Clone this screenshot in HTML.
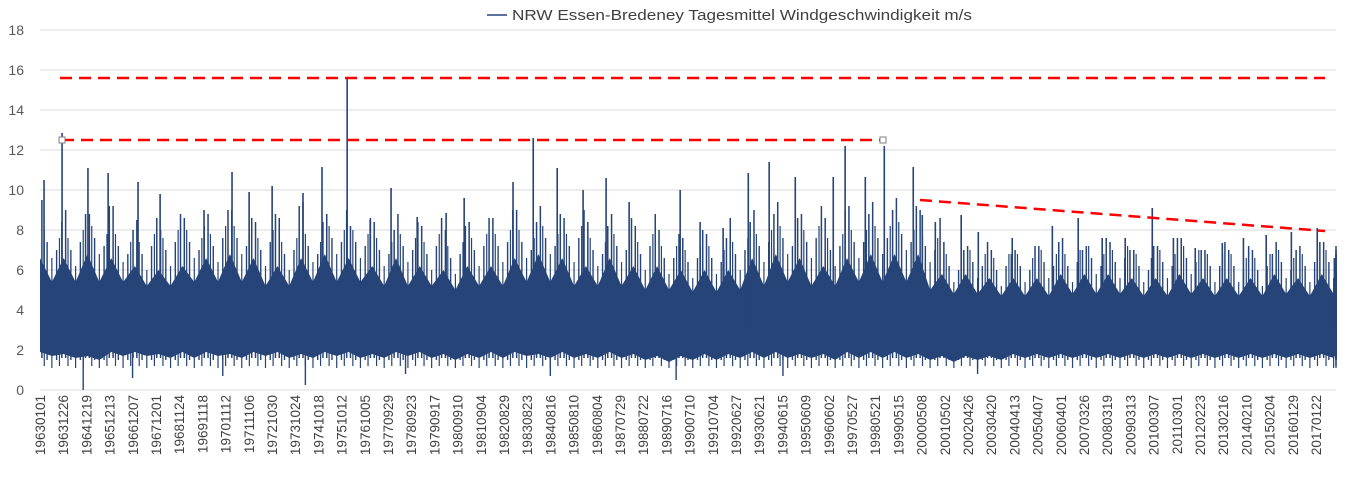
<!DOCTYPE html>
<html><head><meta charset="utf-8"><style>
html,body{margin:0;padding:0;background:#fff;}
svg{display:block;font-family:"Liberation Sans",sans-serif;}
</style></head><body>
<svg id="chart" width="1347" height="486">
<g id="grid"></g>
<g id="yaxis"></g>
<g id="xaxis"></g>
<g id="series"></g>
<g id="refs"></g>
<g>
<line x1="487" y1="15" x2="507" y2="15" stroke="#264478" stroke-width="1.5"/>
<text x="512" y="20" font-size="15" textLength="460" lengthAdjust="spacingAndGlyphs" fill="#404040">NRW Essen-Bredeney Tagesmittel Windgeschwindigkeit m/s</text>
</g>
</svg>
<script>
const yTicks=[0,2,4,6,8,10,12,14,16,18];
const xLabels=["19630101","19631226","19641219","19651213","19661207","19671201","19681124","19691118","19701112","19711106","19721030","19731024","19741018","19751012","19761005","19770929","19780923","19790917","19800910","19810904","19820829","19830823","19840816","19850810","19860804","19870729","19880722","19890716","19900710","19910704","19920627","19930621","19940615","19950609","19960602","19970527","19980521","19990515","20000508","20010502","20020426","20030420","20040413","20050407","20060401","20070326","20080319","20090313","20100307","20110301","20120223","20130216","20140210","20150204","20160129","20170122"];
const years=[1963,1964,1965,1966,1967,1968,1969,1970,1971,1972,1973,1974,1975,1976,1977,1978,1979,1980,1981,1982,1983,1984,1985,1986,1987,1988,1989,1990,1991,1992,1993,1994,1995,1996,1997,1998,1999,2000,2001,2002,2003,2004,2005,2006,2007,2008,2009,2010,2011,2012,2013,2014,2015,2016,2017,2018];
const winterTop=[6.6,6.6,6.8,6.6,6.2,6.0,6.2,6.6,6.8,6.6,6.2,6.6,6.8,6.6,6.2,6.6,6.2,6.0,6.2,6.2,6.6,6.8,6.6,6.2,6.6,6.2,6.2,6.0,6.0,6.0,6.6,6.8,6.6,6.2,6.6,6.8,6.8,6.8,5.8,5.8,5.6,5.6,5.6,5.8,5.8,5.8,5.6,5.6,5.8,5.6,5.6,5.6,5.8,5.6,5.8,5.6];
const summerTop=[5.4,5.4,5.4,5.4,5.2,5.2,5.4,5.4,5.4,5.2,5.2,5.4,5.4,5.4,5.2,5.2,5.2,5.0,5.2,5.2,5.4,5.4,5.2,5.2,5.2,5.0,5.0,4.9,4.9,5.0,5.2,5.4,5.2,5.2,5.4,5.4,5.4,5.0,4.8,4.8,4.7,4.7,4.7,4.8,4.8,4.8,4.7,4.7,4.8,4.7,4.7,4.7,4.8,4.7,4.8,4.7];
const winterLow=[1.9,1.8,1.7,1.9,1.9,1.8,1.9,1.9,1.8,1.9,1.9,1.8,1.9,1.9,1.8,1.9,1.9,1.8,1.8,1.9,1.9,1.8,1.9,1.8,1.9,1.8,1.7,1.7,1.8,1.8,1.9,1.9,1.8,1.8,1.9,1.9,1.9,1.8,1.7,1.7,1.7,1.8,1.8,1.8,1.8,1.8,1.8,1.8,1.8,1.8,1.8,1.8,1.8,1.8,1.8,1.8];
const summerLow=[1.7,1.6,1.5,1.7,1.7,1.6,1.6,1.7,1.6,1.7,1.6,1.6,1.7,1.6,1.6,1.7,1.6,1.5,1.6,1.6,1.7,1.6,1.6,1.6,1.6,1.5,1.4,1.5,1.5,1.6,1.6,1.6,1.6,1.5,1.6,1.6,1.6,1.5,1.4,1.5,1.5,1.6,1.6,1.6,1.6,1.6,1.6,1.6,1.6,1.6,1.6,1.6,1.6,1.6,1.6,1.6];
const spikeA=[9.5,9.0,8.8,9.2,8.5,8.0,8.6,8.8,9.0,8.4,8.6,9.4,8.8,8.2,8.4,8.8,8.2,8.0,8.4,8.6,9.0,9.2,8.6,8.4,8.8,8.2,8.0,7.6,7.8,8.6,9.0,9.4,8.8,8.6,9.2,9.4,9.6,9.0,7.4,7.2,7.0,7.0,7.2,7.6,7.2,7.4,7.0,7.2,7.6,7.0,7.0,7.0,7.4,7.2,7.4,7.0];
const spikeB=[8.4,8.8,9.2,8.0,8.6,8.8,8.2,9.0,8.6,8.8,9.2,8.4,9.0,8.6,8.0,8.4,8.6,8.2,8.6,9.0,8.4,8.8,9.0,8.2,8.6,8.8,7.8,8.0,7.6,8.4,8.8,8.6,9.2,9.0,8.8,9.0,9.2,8.6,7.0,7.4,6.8,7.2,7.4,7.0,7.6,7.0,7.2,7.6,7.0,7.4,7.2,6.8,7.0,7.4,7.2,6.8];
const spikeC=[7.4,7.0,7.6,7.2,6.8,7.0,7.4,7.2,7.6,7.0,6.8,7.2,7.6,7.4,7.0,7.2,6.8,6.6,7.0,7.2,7.4,7.6,7.2,7.0,7.2,6.8,6.6,6.4,6.6,6.8,7.2,7.6,7.4,7.0,7.4,7.6,7.8,7.2,6.2,6.4,6.0,6.2,6.4,6.2,6.6,6.4,6.2,6.4,6.6,6.2,6.2,6.0,6.4,6.2,6.4,6.2];
const spikeD=[7.0,7.4,7.2,6.8,7.2,7.4,7.0,7.6,7.2,7.4,7.0,6.8,7.4,7.2,6.8,7.0,7.2,6.8,7.2,7.4,7.0,7.2,7.6,6.8,7.0,7.2,6.6,6.6,6.4,7.0,7.4,7.2,7.6,7.2,7.4,7.6,7.4,7.0,6.0,6.2,6.2,6.0,6.2,6.4,6.2,6.6,6.0,6.2,6.4,6.2,6.0,6.2,6.0,6.4,6.2,6.0];
const peakYear=[1963.17,1963.93,1965.02,1965.87,1967.13,1968.06,1969.91,1971.09,1971.81,1972.78,1974.08,1974.88,1975.94,1976.91,1977.79,1978.89,1980.11,1980.87,1982.93,1983.78,1984.79,1985.88,1986.85,1987.82,1989.97,1990.81,1991.78,1992.84,1993.72,1994.82,1996.42,1996.92,1997.77,1998.57,1999.79,2000.17,2000.72,2001.81,2002.53,2003.96,2005.65,2006.74,2007.75,2008.72,2009.86,2010.75,2011.67,2012.81,2013.70,2014.66,2015.72,2016.81,2017.53];
const peakVal=[10.5,12.85,11.1,10.85,10.4,9.8,9.0,10.9,9.9,10.2,9.85,11.15,15.6,8.5,10.1,8.65,8.85,9.6,10.4,12.6,11.1,10.0,10.6,9.4,10.0,8.4,8.1,10.85,11.4,10.65,10.65,12.2,10.65,12.2,11.15,8.75,8.4,8.75,7.9,7.6,8.2,8.6,7.6,7.6,9.1,7.6,7.1,7.35,7.6,7.75,7.9,8.1,6.6];
const dipYear=[1964.82,1966.9,1970.7,1974.18,1978.4,1984.5,1989.8,1994.3,2002.5];
const dipVal=[0.0,0.6,0.7,0.25,0.8,0.7,0.5,0.7,0.8];

const NS="http://www.w3.org/2000/svg";
const X0=40, X1=1336, Y0=390, PX=20;
const pxPerYear=23.2*365.25/357;
const yS=v=>Y0-v*PX;
const xy=yr=>X0+(yr-1963)*pxPerYear;
const clampX=x=>Math.min(X1,Math.max(X0,x));
function mk(tag,attrs,parent){const e=document.createElementNS(NS,tag);for(const k in attrs)e.setAttribute(k,attrs[k]);parent.appendChild(e);return e;}

const gridG=document.getElementById('grid'), yax=document.getElementById('yaxis'), xax=document.getElementById('xaxis');
yTicks.forEach(t=>{
  const l=mk('line',{x1:X0,x2:X1,y1:yS(t),y2:yS(t),stroke:'#d9d9d9','stroke-width':1},gridG);
  
  
  const tx=mk('text',{x:24,y:yS(t)+5,'text-anchor':'end','font-size':14,fill:'#595959'},yax);
  tx.textContent=t;
  
  
});
xLabels.forEach((s,i)=>{
  const x=X0+i*23.2;
  const tx=mk('text',{x:0,y:0,transform:`translate(${x+5},395) rotate(-90)`,'text-anchor':'end','font-size':13.5,fill:'#404040'},xax);
  tx.textContent=s;
  
  
});

const ser=document.getElementById('series');
let topPts=[],botPts=[];
years.forEach((yr,i)=>{
  topPts.push([clampX(xy(yr)),yS(winterTop[i])]);
  topPts.push([clampX(xy(yr+0.5)),yS(summerTop[i])]);
  botPts.push([clampX(xy(yr)),yS(winterLow[i])]);
  botPts.push([clampX(xy(yr+0.5)),yS(summerLow[i])]);
});
topPts.push([X1,yS(winterTop[winterTop.length-1])]);
botPts.push([X1,yS(winterLow[winterLow.length-1])]);
const pts=topPts.concat(botPts.reverse()).map(p=>p[0].toFixed(1)+','+p[1].toFixed(1)).join(' ');
const poly=mk('polygon',{points:pts,fill:'#264478'},ser);


function spike(yr,lo,hi,w,name){
  const x=clampX(xy(yr));
  const ln=mk('line',{x1:x,x2:x,y1:yS(lo),y2:yS(hi),stroke:'#264478','stroke-width':w},ser);
  
  
}
years.forEach((yr,i)=>{
  spike(yr+0.08,1.6,spikeA[i],1.5,'series-spike');
  spike(yr+0.92,1.6,spikeB[i],1.5,'series-spike');
  spike(yr+0.3,1.5,spikeC[i],1.4,'series-spike');
  spike(yr+0.7,1.5,spikeD[i],1.4,'series-spike');
  spike(yr+0.18,1.2,spikeC[i]+0.6,1.2,'series-spike');
  spike(yr+0.82,1.2,spikeD[i]+0.6,1.2,'series-spike');
  spike(yr+0.5,1.1,spikeC[i]-0.8,1.2,'series-spike');
});
peakYear.forEach((yr,i)=>spike(yr,3,peakVal[i],1.6,'peak-spike'));
dipYear.forEach((yr,i)=>spike(yr,2.5,dipVal[i],1.4,'dip-spike'));

const refs=document.getElementById('refs');
const dash={stroke:'#ff0000','stroke-width':2.5,'stroke-dasharray':'12 7',fill:'none'};
const r1=mk('line',Object.assign({x1:60,x2:1325,y1:yS(15.6),y2:yS(15.6)},dash),refs);


const r2=mk('line',Object.assign({x1:62,x2:883,y1:yS(12.5),y2:yS(12.5)},dash),refs);


const r3=mk('line',Object.assign({x1:920,x2:1325,y1:yS(9.5),y2:yS(7.95)},dash),refs);


[62,883].forEach(x=>{
  const m=mk('rect',{x:x-3,y:yS(12.5)-3,width:6,height:6,fill:'#fff',stroke:'#7f7f7f','stroke-width':1},refs);
  
  
});
</script>
</body></html>
